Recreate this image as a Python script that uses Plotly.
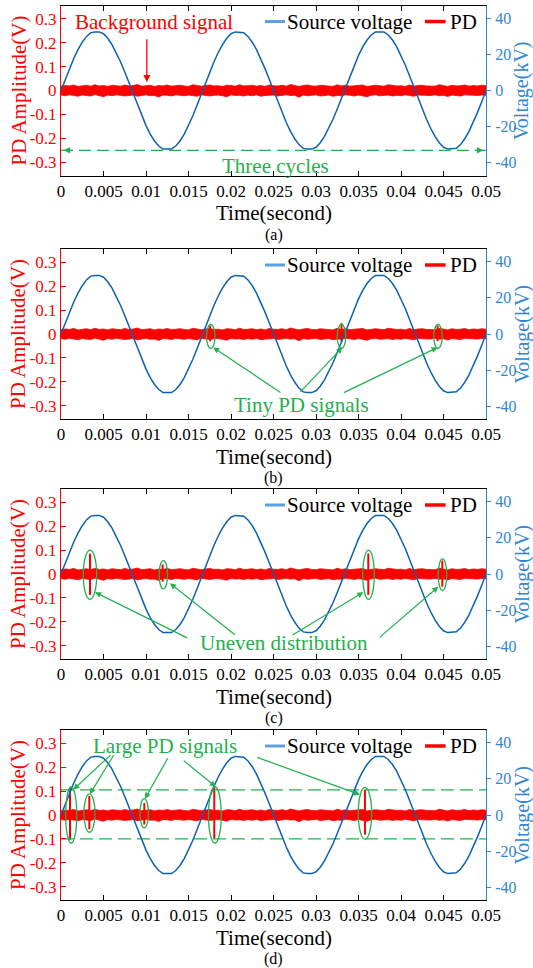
import numpy as np
import plotly.graph_objects as go
from plotly.subplots import make_subplots

# ---------------------------------------------------------------- data ----
panel_tags = ["(a)", "(b)", "(c)", "(d)"]

time_ticks = [0, 0.005, 0.01, 0.015, 0.02, 0.025, 0.03, 0.035, 0.04, 0.045, 0.05]
time_tick_text = ["0", "0.005", "0.01", "0.015", "0.02", "0.025",
                  "0.03", "0.035", "0.04", "0.045", "0.05"]
pd_ticks = [0.3, 0.2, 0.1, 0, -0.1, -0.2, -0.3]
pd_tick_text = ["0.3", "0.2", "0.1", "0", "-0.1", "-0.2", "-0.3"]
kv_ticks = [40, 20, 0, -20, -40]
kv_tick_text = ["40", "20", "0", "-20", "-40"]

# source voltage (kV), one sample every 0.5 ms over 0 .. 0.05 s
volt_step_s = 0.0005
source_kv = [
    0, 6.2, 12.1, 17.7, 22.6, 26.7, 29.9, 32.0, 32.4, 32.4,
    31.4, 28.9, 25.4, 21.0, 15.9, 10.2, 4.1, -2.1, -8.2, -14.1,
    -19.4, -24.1, -27.9, -30.7, -32.4, -32.4, -32.4, -30.7, -27.9, -24.1,
    -19.4, -14.1, -8.2, -2.1, 4.1, 10.2, 15.9, 21.0, 25.4, 28.9,
    31.4, 32.4, 32.4, 32.0, 29.9, 26.7, 22.6, 17.7, 12.1, 6.2,
    0, -6.2, -12.1, -17.7, -22.6, -26.7, -29.9, -32.0, -32.4, -32.4,
    -31.4, -28.9, -25.4, -21.0, -15.9, -10.2, -4.1, 2.1, 8.2, 14.1,
    19.4, 24.1, 27.9, 30.7, 32.4, 32.4, 32.4, 30.7, 27.9, 24.1,
    19.4, 14.1, 8.2, 2.1, -4.1, -10.2, -15.9, -21.0, -25.4, -28.9,
    -31.4, -32.4, -32.4, -32.0, -29.9, -26.7, -22.6, -17.7, -12.1, -6.2,
    0,
]

# background signal on the PD channel: upper and lower envelope (mV),
# evenly spread over 0 .. 0.05 s
noise_span_s = [0, 0.05]
noise_upper_mv = [
    18, 21, 19, 23, 17, 20, 22, 18, 24, 19, 21, 17, 22, 20, 18, 23, 19, 21, 25, 18,
    20, 22, 17, 21, 19, 23, 18, 20, 22, 19, 17, 24, 20, 18, 21, 23, 19, 20, 17, 22,
    21, 18, 24, 19, 20, 22, 18, 21, 17, 23, 20, 19, 22, 18, 25, 20, 17, 21, 23, 19,
    18, 22, 20, 21, 17, 24, 19, 22, 18, 20, 21, 23, 17, 19, 22, 20, 18, 24, 21, 19,
    20, 17, 23, 18, 21, 22, 19, 20, 18, 24, 21, 17, 22, 19, 20, 23, 18, 21, 19, 22, 20,
]
noise_lower_mv = [
    -19, -22, -18, -21, -24, -19, -20, -23, -17, -21, -26, -19, -22, -18, -20, -23, -21, -19, -24, -20,
    -18, -22, -21, -27, -19, -20, -23, -18, -21, -22, -19, -20, -24, -18, -21, -23, -20, -19, -22, -26,
    -18, -21, -20, -23, -19, -22, -18, -24, -21, -20, -19, -23, -22, -18, -21, -20, -28, -19, -22, -21,
    -18, -23, -20, -19, -24, -21, -22, -18, -20, -23, -19, -21, -26, -20, -18, -22, -21, -19, -23, -20,
    -22, -18, -21, -24, -19, -20, -23, -21, -18, -22, -20, -25, -19, -21, -23, -18, -20, -22, -21, -19, -20,
]

# discharge pulses: time (s), positive peak (V), negative peak (V)
pulse_b_t = [0.01755, 0.0330, 0.0443]
pulse_b_hi = [0.035, 0.045, 0.035]
pulse_b_lo = [-0.030, -0.032, -0.030]

pulse_c_t = [0.00341, 0.01196, 0.03615, 0.04486]
pulse_c_hi = [0.085, 0.040, 0.086, 0.056]
pulse_c_lo = [-0.087, -0.032, -0.087, -0.053]

pulse_d_t = [0.00106, 0.00333, 0.0098, 0.01803, 0.03576]
pulse_d_hi = [0.113, 0.080, 0.050, 0.115, 0.106]
pulse_d_lo = [-0.103, -0.060, -0.040, -0.100, -0.082]

# large-signal threshold levels in (d), V
threshold_v = [0.105, -0.1]

# ------------------------------------------------------------- styling ----
RED = "#ff0000"
WAVE = "#0b62b0"
AXIS_BLUE = "#2f86d1"
SWATCH_BLUE = "#5ea2dc"
GREEN = "#22b14c"
FONT = "Liberation Serif, Times New Roman, serif"

W, H = 533, 968
ML, MR = 61, 47
PLOT_W = W - ML - MR
# plot-area top/bottom pixel rows of the four panels
panel_px = [(5.5, 175.5), (249, 419), (489, 659), (730, 900)]
# vertical centres (px) of the time-axis titles and of the panel tags
xtitle_px = [213, 456.5, 696.5, 937.5]
tag_px = [234.5, 478, 718, 958.7]

fig = make_subplots(rows=4, cols=1, specs=[[{"secondary_y": True}]] * 4)

up_t = np.linspace(noise_span_s[0], noise_span_s[1], len(noise_upper_mv))
lo_t = np.linspace(noise_span_s[0], noise_span_s[1], len(noise_lower_mv))
up_v = np.array(noise_upper_mv) / 1000.0
lo_v = np.array(noise_lower_mv) / 1000.0
volt_t = np.arange(len(source_kv)) * volt_step_s

pulses = [([], [], []),
          (pulse_b_t, pulse_b_hi, pulse_b_lo),
          (pulse_c_t, pulse_c_hi, pulse_c_lo),
          (pulse_d_t, pulse_d_hi, pulse_d_lo)]


def axis_ids(row):
    xid = "x" if row == 1 else f"x{row}"
    yid = "y" if row == 1 else f"y{2 * row - 1}"
    return xid, yid


for i in range(4):
    row = i + 1
    # background band: upper envelope, then lower envelope filled up to it
    fig.add_trace(go.Scatter(x=up_t, y=up_v, mode="lines",
                             line=dict(color=RED, width=0.8), hoverinfo="skip"),
                  row=row, col=1, secondary_y=False)
    fig.add_trace(go.Scatter(x=lo_t, y=lo_v, mode="lines", fill="tonexty",
                             fillcolor=RED, line=dict(color=RED, width=0.8),
                             hoverinfo="skip"),
                  row=row, col=1, secondary_y=False)
    pt, phi, plo = pulses[i]
    if pt:
        xs, ys = [], []
        for t, hi, lo in zip(pt, phi, plo):
            xs += [t, t, None]
            ys += [hi, lo, None]
        fig.add_trace(go.Scatter(x=xs, y=ys, mode="lines",
                                 line=dict(color=RED, width=2), hoverinfo="skip"),
                      row=row, col=1, secondary_y=False)
    if row == 4:
        for lvl in threshold_v:
            fig.add_trace(go.Scatter(x=noise_span_s, y=[lvl, lvl], mode="lines",
                                     line=dict(color=GREEN, width=1.3, dash="13px,6px"),
                                     hoverinfo="skip"),
                          row=row, col=1, secondary_y=False)
    fig.add_trace(go.Scatter(x=volt_t, y=source_kv, mode="lines",
                             line=dict(color=WAVE, width=1.5), hoverinfo="skip"),
                  row=row, col=1, secondary_y=True)

    top, bot = panel_px[i]
    dom = [1 - bot / H, 1 - top / H]

    fig.update_xaxes(domain=[0, 1], range=[0, 0.05], tickvals=time_ticks,
                     ticktext=time_tick_text, ticks="inside", ticklen=5,
                     tickcolor="black", showline=True, linecolor="black", linewidth=1,
                     mirror="ticks", showgrid=False, zeroline=False, automargin=False,
                     tickfont=dict(family=FONT, size=17, color="black"),
                     row=row, col=1)
    fig.update_yaxes(range=[-0.355, 0.355], tickvals=pd_ticks, ticktext=pd_tick_text,
                     ticks="inside", ticklen=5, tickcolor=RED, showline=True,
                     linecolor=RED, linewidth=1, showgrid=False, zeroline=False,
                     automargin=False, domain=dom,
                     tickfont=dict(family=FONT, size=17, color=RED),
                     row=row, col=1, secondary_y=False)
    fig.update_yaxes(range=[-47, 47], tickvals=kv_ticks, ticktext=kv_tick_text,
                     ticks="outside", ticklen=4, tickcolor=AXIS_BLUE, showline=True,
                     linecolor=AXIS_BLUE, linewidth=1, showgrid=False, zeroline=False,
                     automargin=False, domain=dom, ticklabelstandoff=1,
                     tickfont=dict(family=FONT, size=16, color=AXIS_BLUE),
                     row=row, col=1, secondary_y=True)

    xid, yid = axis_ids(row)
    xd, yd = f"{xid} domain", f"{yid} domain"

    # axis titles
    fig.add_annotation(xref="paper", yref=yd, x=(18 - ML) / PLOT_W, y=0.5,
                       text="PD Amplitude(V)", textangle=-90, showarrow=False,
                       xanchor="center", yanchor="middle",
                       font=dict(family=FONT, size=21, color=RED))
    fig.add_annotation(xref="paper", yref=yd, x=(514 - ML) / PLOT_W, y=0.5,
                       xshift=7.5, text="Voltage(kV)", textangle=-90, showarrow=False,
                       xanchor="center", yanchor="middle", borderpad=0,
                       font=dict(family=FONT, size=20, color=AXIS_BLUE))
    fig.add_annotation(xref="paper", yref="paper", x=0.5, y=1 - xtitle_px[i] / H,
                       text="Time(second)", showarrow=False, xanchor="center",
                       yanchor="middle", borderpad=0,
                       font=dict(family=FONT, size=21, color="black"))

    # legend row
    ly = 1 - 16 / (bot - top)
    fig.add_shape(type="line", xref=xd, yref=yd, x0=0.480, x1=0.527, y0=ly, y1=ly,
                  line=dict(color=SWATCH_BLUE, width=3))
    fig.add_shape(type="line", xref=xd, yref=yd, x0=0.8565, x1=0.905, y0=ly, y1=ly,
                  line=dict(color=RED, width=3.5))
    fig.add_annotation(xref=xd, yref=yd, x=0.527, y=ly, text="Source voltage",
                       showarrow=False, xanchor="left", yanchor="middle",
                       font=dict(family=FONT, size=21, color="black"))
    fig.add_annotation(xref=xd, yref=yd, x=0.911, y=ly, text="PD",
                       showarrow=False, xanchor="left", yanchor="middle",
                       font=dict(family=FONT, size=21, color="black"))

    # panel tag under the axis title
    fig.add_annotation(xref="paper", yref="paper", x=0.5, y=1 - tag_px[i] / H,
                       text=panel_tags[i], showarrow=False, xanchor="center",
                       yanchor="middle", borderpad=0,
                       font=dict(family=FONT, size=16, color="black"))


def arrow(xid, yid, head, tail, color=GREEN, width=1.2, size=1.0):
    fig.add_annotation(xref=xid, yref=yid, axref=xid, ayref=yid,
                       x=head[0], y=head[1], ax=tail[0], ay=tail[1], text="",
                       showarrow=True, arrowhead=2, arrowsize=size,
                       arrowwidth=width, arrowcolor=color)


def label(xid, yid, x, y, text, color):
    fig.add_annotation(xref=xid, yref=yid, x=x, y=y, text=text, showarrow=False,
                       xanchor="center", yanchor="middle",
                       font=dict(family=FONT, size=21, color=color))


def ellipse(xid, yid, cx, cy, sx, sy):
    fig.add_shape(type="circle", xref=xid, yref=yid, x0=cx - sx, x1=cx + sx,
                  y0=cy - sy, y1=cy + sy, line=dict(color=GREEN, width=1.3))


# (a) background signal and the three-cycle span
xa, ya = axis_ids(1)
label(xa, ya, 0.0109, 0.285, "Background signal", RED)
arrow(xa, ya, (0.0101, 0.035), (0.0101, 0.22), color=RED, width=1.3, size=1.1)
fig.add_shape(type="line", xref=xa, yref=ya, x0=noise_span_s[0], x1=noise_span_s[1],
              y0=-0.25, y1=-0.25, line=dict(color=GREEN, width=1.3, dash="12px,6px"))
arrow(xa, ya, (0.0003, -0.25), (0.0015, -0.25), width=1.3)
arrow(xa, ya, (0.0497, -0.25), (0.0485, -0.25), width=1.3)
label(xa, ya, 0.0252, -0.316, "Three cycles", GREEN)

# (b) tiny PD signals
xb, yb = axis_ids(2)
for cx in [0.01762, 0.0330, 0.04435]:
    ellipse(xb, yb, cx, -0.01, 0.0005, 0.05)
label(xb, yb, 0.0283, -0.296, "Tiny PD signals", GREEN)
for head, tail in zip([(0.0179, -0.056), (0.0331, -0.056), (0.0443, -0.056)],
                      [(0.0260, -0.248), (0.0280, -0.248), (0.0331, -0.248)]):
    arrow(xb, yb, head, tail)

# (c) uneven distribution
xc, yc = axis_ids(3)
for cx, sx, sy in zip([0.00341, 0.01204, 0.03618, 0.04488],
                      [0.00079, 0.0005, 0.00068, 0.0005],
                      [0.103, 0.059, 0.103, 0.066]):
    ellipse(xc, yc, cx, -0.003, sx, sy)
label(xc, yc, 0.0262, -0.29, "Uneven distribution", GREEN)
for head, tail in zip([(0.0040, -0.076), (0.01282, -0.039), (0.03556, -0.076), (0.04439, -0.053)],
                      [(0.01502, -0.27), (0.02064, -0.259), (0.02707, -0.259), (0.03731, -0.27)]):
    arrow(xc, yc, head, tail)

# (d) large PD signals
xdd, ydd = axis_ids(4)
for cx, cy, sx, sy in zip([0.0012, 0.00335, 0.00979, 0.0181, 0.03576],
                          [0.0, 0.008, 0.007, 0.0, 0.007],
                          [0.00065, 0.00065, 0.0005, 0.00075, 0.00079],
                          [0.118, 0.08, 0.061, 0.118, 0.108]):
    ellipse(xdd, ydd, cx, cy, sx, sy)
label(xdd, ydd, 0.0122, 0.29, "Large PD signals", GREEN)
for head, tail in zip([(0.00145, 0.106), (0.00341, 0.088), (0.00988, 0.068),
                       (0.0182, 0.118), (0.03518, 0.085)],
                      [(0.0060, 0.256), (0.0063, 0.256), (0.01265, 0.243),
                       (0.01426, 0.232), (0.02289, 0.243)]):
    arrow(xdd, ydd, head, tail)

fig.update_layout(width=W, height=H, margin=dict(l=ML, r=MR, t=0, b=0),
                  plot_bgcolor="white", paper_bgcolor="white", showlegend=False,
                  font=dict(family=FONT, size=17, color="black"))

fig.write_html("out.html")
